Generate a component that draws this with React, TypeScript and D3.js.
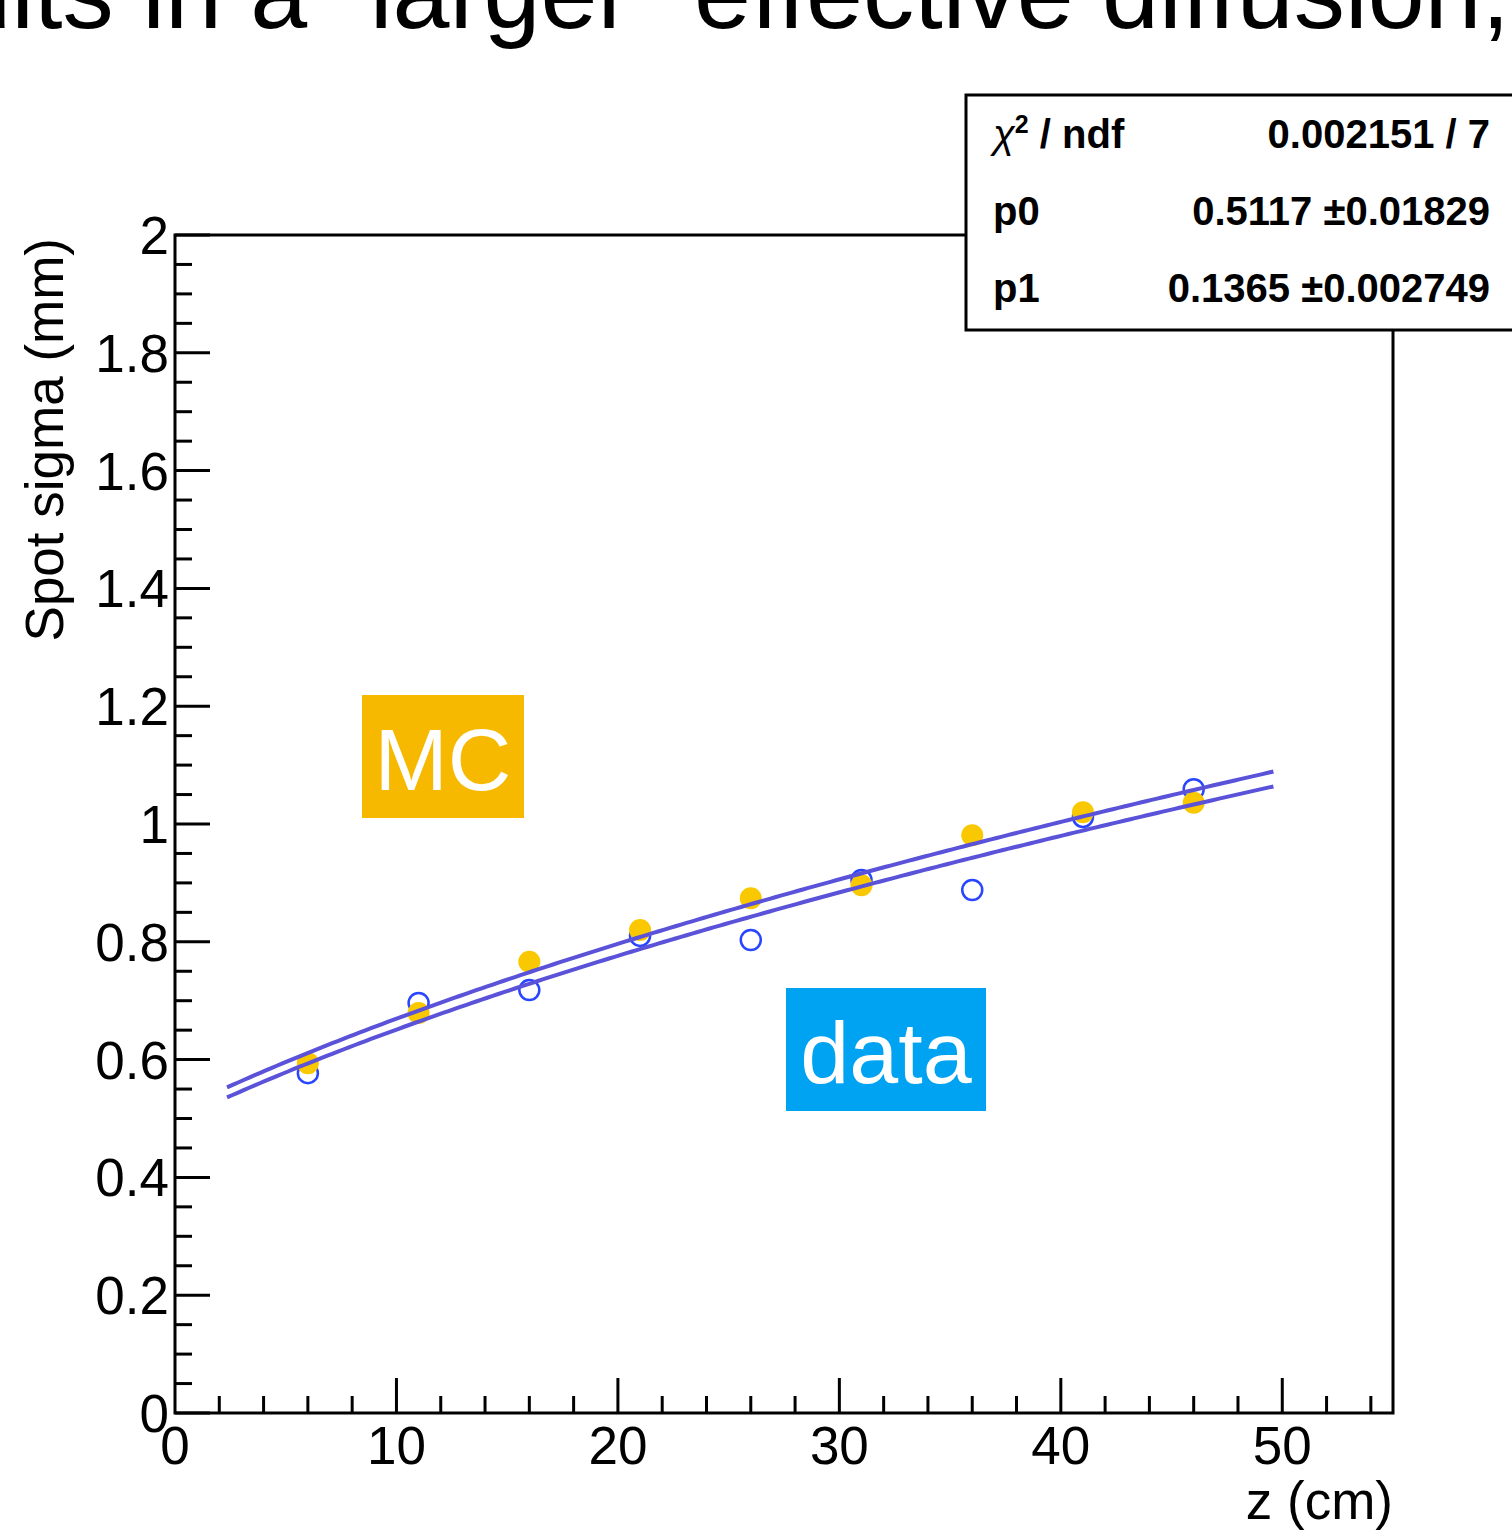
import { useEffect, useRef } from "react";
import * as d3 from "d3";

const zPositions = [6, 11, 16, 21, 26, 31, 36, 41, 46];
const mcSigma = [0.594, 0.679, 0.766, 0.82, 0.874, 0.896, 0.981, 1.02, 1.036];
const dataSigma = [0.577, 0.696, 0.718, 0.81, 0.803, 0.905, 0.888, 1.012, 1.059];

// fit: sigma = sqrt(p0^2 + p1^2 * z)
const fitP0 = [0.5117, 0.495];
const fitP1 = [0.1365, 0.1337];
const fitRange = [2.35, 49.6];

const yTicks = [0, 0.2, 0.4, 0.6, 0.8, 1, 1.2, 1.4, 1.6, 1.8, 2];
const xTicks = [0, 10, 20, 30, 40, 50];

const statLabels = ["χ2 / ndf", "p0", "p1"];
const statValues = ["0.002151 / 7", "0.5117 ±0.01829", "0.1365 ±0.002749"];

export default function App() {
  const svgRef = useRef(null);

  useEffect(() => {
    const width = 1512;
    const height = 1533;
    const margin = { top: 235, right: 119, bottom: 120, left: 175 };
    const font = "'Liberation Sans', Arial, Helvetica, sans-serif";

    d3.select(svgRef.current).selectAll("*").remove();

    const svg = d3
      .select(svgRef.current)
      .attr("width", width)
      .attr("height", height)
      .style("background", "#fff");

    const x = d3.scaleLinear().domain([0, 55]).range([margin.left, width - margin.right]);
    const y = d3.scaleLinear().domain([0, 2]).range([height - margin.bottom, margin.top]);

    // heading text cut at the top
    svg
      .append("text")
      .attr("x", 1510)
      .attr("y", 28)
      .attr("text-anchor", "end")
      .style("font-family", font)
      .style("font-size", "102.4px")
      .text("results in a “larger” effective diffusion,");

    // ticks y
    const yMinor = d3.range(0, 2.0001, 0.05);
    svg
      .append("g")
      .selectAll("line")
      .data(yMinor)
      .enter()
      .append("line")
      .attr("x1", x(0))
      .attr("x2", d => x(0) + (Math.abs(d * 5 - Math.round(d * 5)) < 1e-6 ? 35 : 17))
      .attr("y1", d => y(d))
      .attr("y2", d => y(d))
      .attr("stroke", "#000")
      .attr("stroke-width", 3);

    // ticks x
    const xAll = d3.range(2, 55, 2).concat(xTicks.filter(d => d > 0 && d % 2 !== 0));
    svg
      .append("g")
      .selectAll("line")
      .data(xAll)
      .enter()
      .append("line")
      .attr("x1", d => x(d))
      .attr("x2", d => x(d))
      .attr("y1", y(0))
      .attr("y2", d => y(0) - (d % 10 === 0 ? 35 : 17))
      .attr("stroke", "#000")
      .attr("stroke-width", 3);

    svg
      .append("g")
      .selectAll("text")
      .data(yTicks)
      .enter()
      .append("text")
      .attr("x", x(0) - 6)
      .attr("y", d => y(d) + 19)
      .attr("text-anchor", "end")
      .style("font-family", font)
      .style("font-size", "53px")
      .text(d => String(d));

    svg
      .append("g")
      .selectAll("text")
      .data(xTicks)
      .enter()
      .append("text")
      .attr("x", d => x(d))
      .attr("y", 1464)
      .attr("text-anchor", "middle")
      .style("font-family", font)
      .style("font-size", "53px")
      .text(d => String(d));

    svg
      .append("text")
      .attr("x", x(55))
      .attr("y", 1519)
      .attr("text-anchor", "end")
      .style("font-family", font)
      .style("font-size", "53px")
      .text("z (cm)");

    svg
      .append("text")
      .attr("transform", `translate(63, ${margin.top + 3}) rotate(-90)`)
      .attr("text-anchor", "end")
      .style("font-family", font)
      .style("font-size", "53px")
      .text("Spot sigma (mm)");

    // frame
    svg
      .append("rect")
      .attr("x", x(0))
      .attr("y", y(2))
      .attr("width", x(55) - x(0))
      .attr("height", y(0) - y(2))
      .attr("fill", "none")
      .attr("stroke", "#000")
      .attr("stroke-width", 3);

    // data points (open)
    svg
      .append("g")
      .selectAll("circle")
      .data(zPositions)
      .enter()
      .append("circle")
      .attr("cx", d => x(d))
      .attr("cy", (d, i) => y(dataSigma[i]))
      .attr("r", 10)
      .attr("fill", "none")
      .attr("stroke", "#2845ff")
      .attr("stroke-width", 2.5);

    // MC points (filled)
    svg
      .append("g")
      .selectAll("circle")
      .data(zPositions)
      .enter()
      .append("circle")
      .attr("cx", d => x(d))
      .attr("cy", (d, i) => y(mcSigma[i]))
      .attr("r", 11)
      .attr("fill", "#f9c800");

    // fit curves
    const zs = d3.range(fitRange[0], fitRange[1] + 0.001, 0.25);
    const line = d3
      .line()
      .x(d => x(d[0]))
      .y(d => y(d[1]));
    fitP0.forEach((p0, k) => {
      const p1 = fitP1[k];
      const pts = zs.map(z => [z, Math.sqrt(p0 * p0 + p1 * p1 * z)]);
      svg
        .append("path")
        .datum(pts)
        .attr("d", line)
        .attr("fill", "none")
        .attr("stroke", "#5a52d8")
        .attr("stroke-width", 4);
    });

    // MC / data labels
    const tags = [
      { label: "MC", x: 362, y: 695, w: 162, h: 123, fill: "#f6b900" },
      { label: "data", x: 786, y: 988, w: 200, h: 123, fill: "#00a2f2" }
    ];
    tags.forEach(t => {
      svg
        .append("rect")
        .attr("x", t.x)
        .attr("y", t.y)
        .attr("width", t.w)
        .attr("height", t.h)
        .attr("fill", t.fill);
      svg
        .append("text")
        .attr("x", t.x + t.w / 2)
        .attr("y", t.y + 95)
        .attr("text-anchor", "middle")
        .attr("fill", "#fff")
        .style("font-family", font)
        .style("font-size", "88px")
        .text(t.label);
    });

    // stats box
    svg
      .append("rect")
      .attr("x", 966)
      .attr("y", 95)
      .attr("width", 560)
      .attr("height", 235)
      .attr("fill", "#fff")
      .attr("stroke", "#000")
      .attr("stroke-width", 3);

    statLabels.forEach((lab, i) => {
      const ty = 148 + i * 77;
      const t = svg
        .append("text")
        .attr("x", 993)
        .attr("y", ty)
        .style("font-family", font)
        .style("font-size", "40px")
        .style("font-weight", "bold");
      if (i === 0) {
        t.append("tspan").style("font-style", "italic").style("font-weight", "normal").text("χ");
        t.append("tspan").attr("dy", -15).style("font-size", "25px").text("2");
        t.append("tspan").attr("dy", 15).text(" / ndf");
      } else {
        t.text(lab);
      }
      svg
        .append("text")
        .attr("x", 1490)
        .attr("y", ty)
        .attr("text-anchor", "end")
        .style("font-family", font)
        .style("font-size", "40px")
        .style("font-weight", "bold")
        .text(statValues[i]);
    });
  }, []);

  return <svg ref={svgRef} style={{ position: "absolute", left: 0, top: 0 }}></svg>;
}
